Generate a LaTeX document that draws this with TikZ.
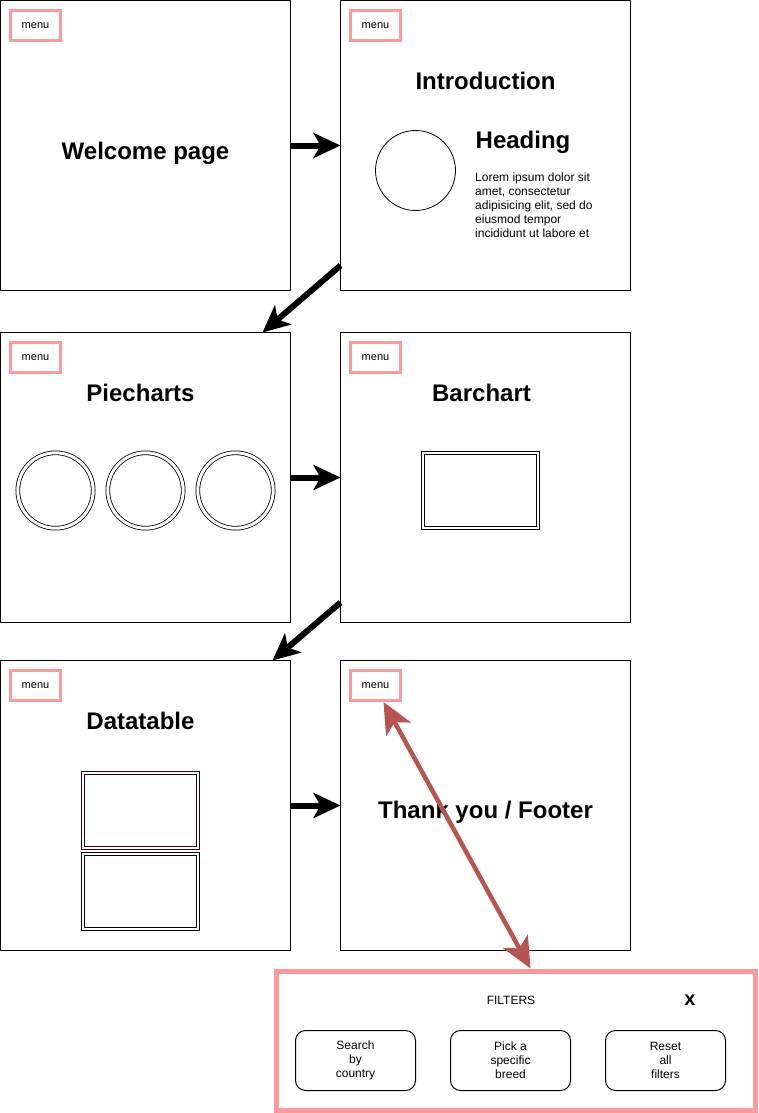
\documentclass[tikz,border=0pt]{standalone}
\usepackage{fontspec}
\setmainfont{Liberation Sans}
\usetikzlibrary{arrows.meta, positioning, calc}
\definecolor{menupink}{HTML}{FF9999}
\definecolor{linkred}{HTML}{B85450}
\definecolor{tablered}{HTML}{33001A}

\begin{document}
\begin{tikzpicture}[
    x=1pt, y=-1pt,
    node distance=50pt and 50pt,
    pagebox/.style={
        rectangle, draw=black, line width=1pt,
        minimum width=290pt, minimum height=290pt, inner sep=0pt, outer sep=0pt
    },
    menubox/.style={
        rectangle, draw=menupink, line width=3pt,
        minimum width=50pt, minimum height=30pt, inner sep=0pt,
        font=\fontsize{11}{13}\selectfont
    },
    pagetitle/.style={font=\fontsize{24}{29}\selectfont\bfseries, inner sep=0pt, anchor=base},
    body/.style={font=\fontsize{12}{14}\selectfont, align=left, inner sep=0pt},
    ring/.style={circle, draw=black, line width=0.8pt, double, double distance=3pt, minimum size=75.4pt, inner sep=0pt},
    tablebox/.style={rectangle, draw=black, line width=1pt, double, double distance=2pt, minimum width=115pt, minimum height=75pt, inner sep=0pt},
    btn/.style={
        rectangle, rounded corners=10pt, draw=black, line width=1pt,
        minimum width=120pt, minimum height=60pt, inner sep=0pt,
        align=center, font=\fontsize{12}{14}\selectfont
    },
    flow/.style={-{Stealth[length=27pt, width=25pt, inset=7pt]}, line width=6pt, black},
    link/.style={{Stealth[length=31pt, width=28pt, inset=8pt]}-{Stealth[length=31pt, width=28pt, inset=8pt]}, line width=4.5pt, linkred},
]
\useasboundingbox (0,0) rectangle (758,1113);

% Pages
\node[pagebox] (welcome) at (145.5,145.5) {};
\node[pagebox, right=of welcome] (intro) {};
\node[pagebox, below=42pt of welcome] (piecharts) {};
\node[pagebox, right=of piecharts] (barchart) {};
\node[pagebox, below=38pt of piecharts] (datatable) {};
\node[pagebox, right=of datatable] (thanks) {};

% Menu buttons
\node[menubox] (menu1) at ($(welcome.north west)+(35,25)$) {menu};
\node[menubox] (menu2) at ($(intro.north west)+(35,25)$) {menu};
\node[menubox] (menu3) at ($(piecharts.north west)+(35,25)$) {menu};
\node[menubox] (menu4) at ($(barchart.north west)+(35,25)$) {menu};
\node[menubox] (menu5) at ($(datatable.north west)+(35,25)$) {menu};
\node[menubox] (menu6) at ($(thanks.north west)+(35,25)$) {menu};

% Titles
\node[pagetitle] (welcometitle) at ($(welcome.north)+(0,159)$) {Welcome page};
\node[pagetitle] (introtitle) at ($(intro.north)+(0,89)$) {Introduction};
\node[pagetitle] (pietitle) at ($(piecharts.north)+(-5,69)$) {Piecharts};
\node[pagetitle] (bartitle) at ($(barchart.north)+(-4,69)$) {Barchart};
\node[pagetitle] (tabletitle) at ($(datatable.north)+(-5,69)$) {Datatable};
\node[pagetitle] (thankstitle) at ($(thanks.north)+(0,158)$) {Thank you / Footer};

% Introduction content
\node[circle, draw=black, line width=0.8pt, minimum size=80pt, inner sep=0pt] (avatar) at ($(intro.north west)+(75,170)$) {};
\node[pagetitle, anchor=base west] (heading) at ($(intro.north west)+(135,148)$) {Heading};
\node[body, anchor=north west] (lorem) at ($(intro.north west)+(134.5,172)$)
    {Lorem ipsum dolor sit\\amet, consectetur\\adipisicing elit, sed do\\eiusmod tempor\\incididunt ut labore et};

% Charts and tables
\foreach \i/\dx in {1/55,2/145,3/235}
    \node[ring] (pie\i) at ($(piecharts.north west)+(\dx,158)$) {};
\node[tablebox] (bars) at ($(barchart.north west)+(140,158)$) {};
\node[tablebox, draw=tablered] (table1) at ($(datatable.north west)+(140,150)$) {};
\node[tablebox, below=4.5pt of table1] (table2) {};

% Filter panel
\node[rectangle, draw=menupink, line width=5pt, minimum width=479pt, minimum height=139pt] (filters) at (515.5,1040.5) {};
\node[body] (filtertitle) at (511,1000.5) {FILTERS};
\node[font=\fontsize{20}{24}\selectfont\bfseries, inner sep=0pt] (close) at (690,1000.5) {x};
\node[btn] (country) at ($(filters.west)+(82,20)$) {Search\\by\\country};
\node[btn, right=34pt of country] (breed) {Pick a\\specific\\breed};
\node[btn, right=34pt of breed] (reset) {Reset\\all\\filters};

% Page flow
\draw[flow] (welcome) -- (intro);
\draw[flow] ($(intro.west)+(0,120)$) -- ($(piecharts.north)+(117,0)$);
\draw[flow] (piecharts) -- (barchart);
\draw[flow] ($(barchart.west)+(0,125)$) -- ($(datatable.north)+(127,0)$);
\draw[flow] (datatable) -- (thanks);

% Menu opens the filters
\draw[link] ([xshift=8pt]menu6.south) -- ([xshift=15pt]filters.north);

\end{tikzpicture}
\end{document}
